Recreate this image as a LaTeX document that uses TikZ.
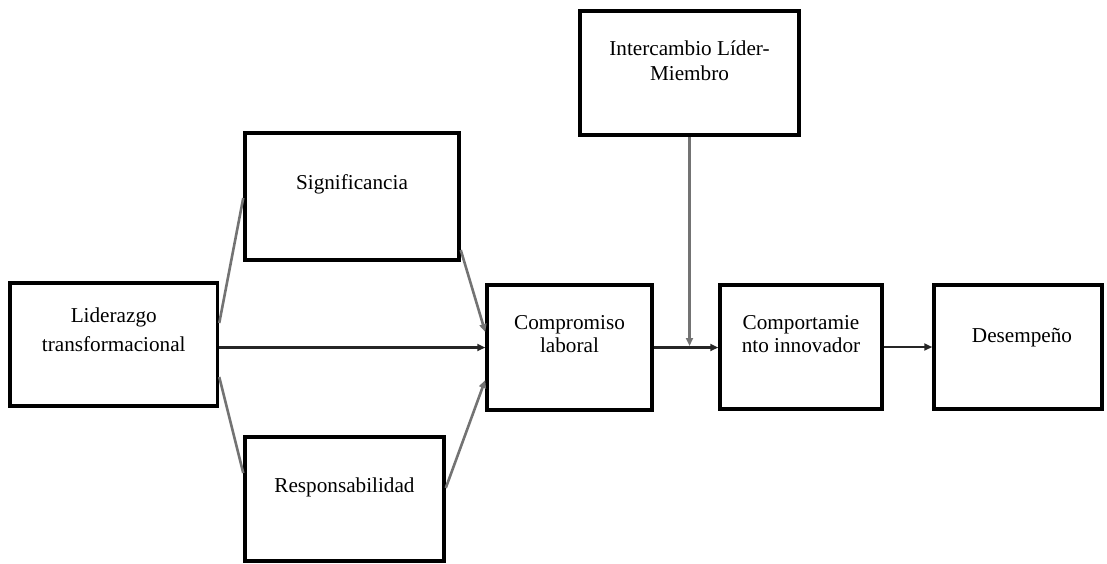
\documentclass[tikz,border=0pt]{standalone}
\usepackage{fontspec}
\setmainfont{Liberation Serif}
\usetikzlibrary{arrows.meta,calc}

\tikzset{
  box/.style={draw=black, line width=3.5pt, fill=white, inner sep=0pt,
              rectangle, minimum width=#1},
  box/.default=200pt,
  lbl/.style={align=center, inner sep=0pt, text=black},
  link/.style={draw=black!55, line width=2.6pt},
  flow/.style={draw=black!85, line width=2.2pt},
  tip/.style={-{Triangle[length=8pt,width=7pt]}},
}

\begin{document}
\begin{tikzpicture}[x=1pt, y=-1pt]
  \useasboundingbox (0,0) rectangle (1107,563);

  % construct boxes
  \node[box=207.5pt, minimum height=123pt,
        label={[lbl, yshift=14.5pt, font=\fontsize{21.2}{29}\selectfont]center:Liderazgo\\transformacional}]
        (lid) at (113.75,344.5) {};
  \node[box=214pt, minimum height=127pt,
        label={[lbl, yshift=12.5pt, font=\fontsize{21.2}{25}\selectfont]center:Significancia}]
        (sig) at (352,196.5) {};
  \node[box=199pt, minimum height=124pt,
        label={[lbl, yshift=12pt, font=\fontsize{21.2}{25}\selectfont]center:Responsabilidad}]
        (resp) at (344.5,499) {};
  \node[box=165pt, minimum height=125pt,
        label={[lbl, yshift=13pt, font=\fontsize{21.2}{23}\selectfont]center:Compromiso\\laboral}]
        (comp) at (569.5,347.5) {};
  \node[box=219pt, minimum height=124pt,
        label={[lbl, yshift=12.5pt, font=\fontsize{21.2}{25}\selectfont]center:Intercambio Líder-\\Miembro}]
        (inter) at (689.5,73) {};
  \node[box=162pt, minimum height=124pt,
        label={[lbl, yshift=12.5pt, font=\fontsize{21.2}{23}\selectfont]center:Comportamie\\nto innovador}]
        (cinn) at (801,347) {};
  \node[box=168pt, minimum height=124pt,
        label={[lbl, xshift=4pt, yshift=9.5pt, font=\fontsize{21.2}{25}\selectfont]center:Desempeño}]
        (des) at (1018,347) {};

  % links from the leadership box to the two mediators
  \draw[link] ($(lid.east)+(0,-21.5)$) -- ($(sig.west)+(0,1.5)$);
  \draw[link] ($(lid.east)+(0,32.5)$) -- ($(resp.west)+(0,-26)$);

  % mediators into work engagement
  \draw[link, tip] ($(sig.east)+(0,53.5)$) -- ($(comp.west)+(0,-15.5)$);
  \draw[link, tip] ($(resp.east)+(0,-11)$) -- ($(comp.west)+(0,32.5)$);

  % main path
  \draw[flow, tip] (lid.east |- comp.west) -- (comp.west);
  \draw[flow, tip] (comp.east) -- (cinn.west |- comp.east);
  \draw[flow, tip] (cinn.east) -- (des.west);

  % moderator acting on the engagement -> innovation path
  \coordinate (mod) at (inter.south |- comp.east);
  \draw[link, tip] (inter.south) -- ($(mod)+(0,-1.5)$);
\end{tikzpicture}
\end{document}
